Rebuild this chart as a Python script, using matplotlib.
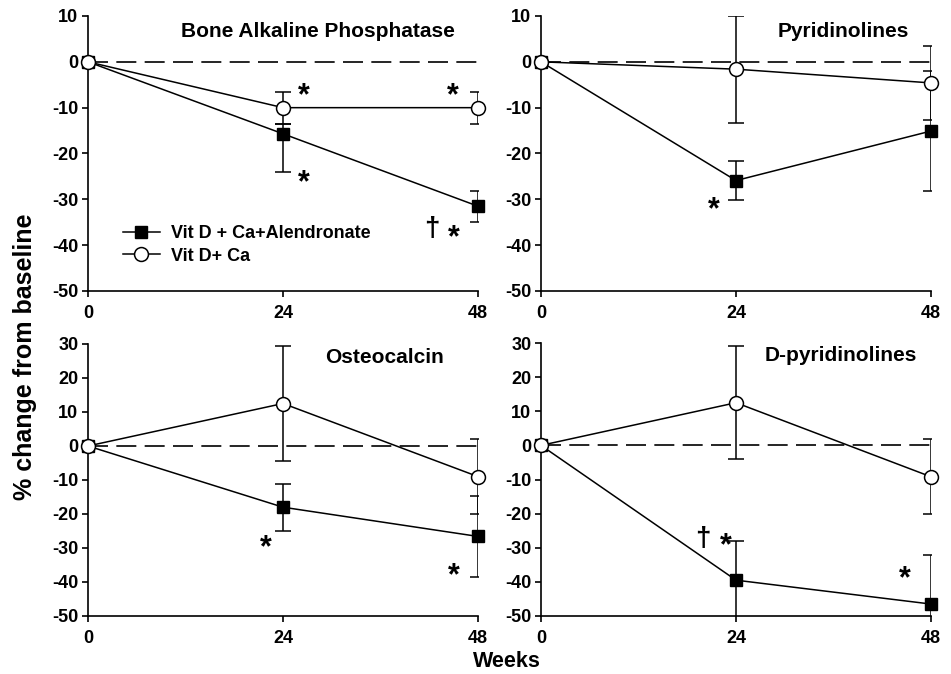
import numpy as np
import matplotlib.pyplot as plt
from matplotlib.lines import Line2D

plt.rcParams['font.family'] = ['Liberation Sans', 'DejaVu Sans']
plt.rcParams['font.weight'] = 'bold'
plt.rcParams['axes.unicode_minus'] = False

weeks = [0, 24, 48]

# Bone Alkaline Phosphatase
bap_aln = [0, -15.7, -31.5]
bap_aln_lo = [0, 8.3, 3.4]
bap_aln_hi = [0, 2.1, 3.4]
bap_ctl = [0, -10, -10]
bap_ctl_err = [0, 3.5, 3.5]

# Pyridinolines
pyr_aln = [0, -25.9, -15.1]
pyr_aln_err = [0, 4.2, 13.0]
pyr_ctl = [0, -1.6, -4.6]
pyr_ctl_err = [0, 11.7, 8.1]

# Osteocalcin
ost_aln = [0, -18.0, -26.6]
ost_aln_err = [0, 6.9, 11.8]
ost_ctl = [0, 12.5, -9.0]
ost_ctl_err = [0, 16.8, 11.0]

# D-pyridinolines
dpy_aln = [0, -39.5, -46.5]
dpy_aln_err = [0, 11.5, 14.5]
dpy_ctl = [0, 12.5, -9.2]
dpy_ctl_err = [0, 16.5, 11.0]

labels = ['Vit D + Ca+Alendronate', 'Vit D+ Ca']

fig = plt.figure(figsize=(9.51, 6.74), dpi=100)
W, H = 951, 674


def make_ax(left, top, right, bottom):
    return fig.add_axes([left / W, 1 - bottom / H, (right - left) / W, (bottom - top) / H])


ax_tl = make_ax(88, 16, 478, 291)
ax_tr = make_ax(541, 16, 931, 291)
ax_bl = make_ax(88, 344, 478, 616)
ax_br = make_ax(541, 343, 931, 616)


def draw(ax, aln, aln_err, ctl, ctl_err, ylim, title, tx, ty):
    ax.axhline(0, color='black', lw=1.2, ls=(0, (12, 5)), zorder=1)
    ax.errorbar(weeks, aln, yerr=aln_err, fmt='none', ecolor='black',
                elinewidth=1.1, capsize=6, capthick=1.1, zorder=2)
    ax.errorbar(weeks, ctl, yerr=ctl_err, fmt='none', ecolor='black',
                elinewidth=1.1, capsize=6, capthick=1.1, zorder=2)
    ax.plot(weeks, aln, color='black', lw=1.1, marker='s', ms=9,
            mfc='black', mec='black', clip_on=False, zorder=3)
    ax.plot(weeks, ctl, color='black', lw=1.1, marker='o', ms=10,
            mfc='white', mec='black', mew=1.1, clip_on=False, zorder=4)
    ax.set_xlim(0, 48)
    ax.set_ylim(*ylim)
    ax.set_xticks(weeks)
    ax.set_yticks(np.arange(ylim[0], ylim[1] + 1, 10))
    for s in ['top', 'right']:
        ax.spines[s].set_visible(False)
    for s in ['left', 'bottom']:
        ax.spines[s].set_linewidth(1.2)
    ax.tick_params(direction='out', length=4, width=1.2, labelsize=13, pad=3)
    ax.tick_params(axis='x', pad=6)
    for lab in ax.get_xticklabels() + ax.get_yticklabels():
        lab.set_fontweight('bold')
    ax.text(tx, ty, title, transform=ax.transAxes, ha='center', va='center',
            fontsize=15, fontweight='bold')


draw(ax_tl, bap_aln, [bap_aln_lo, bap_aln_hi], bap_ctl, bap_ctl_err,
     (-50, 10), 'Bone Alkaline Phosphatase', 0.59, 0.945)
draw(ax_tr, pyr_aln, pyr_aln_err, pyr_ctl, pyr_ctl_err,
     (-50, 10), 'Pyridinolines', 0.775, 0.945)
draw(ax_bl, ost_aln, ost_aln_err, ost_ctl, ost_ctl_err,
     (-50, 30), 'Osteocalcin', 0.76, 0.95)
draw(ax_br, dpy_aln, dpy_aln_err, dpy_ctl, dpy_ctl_err,
     (-50, 30), 'D-pyridinolines', 0.77, 0.955)

star = dict(fontsize=22, fontweight='bold', ha='center', va='center')
dag = dict(fontsize=20, fontweight='bold', ha='center', va='center')
ax_tl.text(26.5, -7.6, '*', **star)
ax_tl.text(26.5, -26.4, '*', **star)
ax_tl.text(44.9, -7.6, '*', **star)
ax_tl.text(42.3, -36.4, '†', **dag)
ax_tl.text(45.0, -38.4, '*', **star)
ax_tr.text(21.3, -32.4, '*', **star)
ax_bl.text(21.9, -30.0, '*', **star)
ax_bl.text(45.0, -38.4, '*', **star)
ax_br.text(19.9, -27.4, '†', **dag)
ax_br.text(22.8, -29.6, '*', **star)
ax_br.text(44.8, -39.2, '*', **star)

handles = [Line2D([], [], color='black', lw=1.1, marker='s', ms=9, mfc='black'),
           Line2D([], [], color='black', lw=1.1, marker='o', ms=10, mfc='white', mew=1.1)]
ax_tl.legend(handles, labels, loc='upper left', bbox_to_anchor=(0.07, 0.265),
             frameon=False, handlelength=2.1, handletextpad=0.6, labelspacing=0.3,
             prop={'weight': 'bold', 'size': 13}, borderaxespad=0)

fig.text(0.026, 0.47, '% change from baseline', rotation=90, ha='center', va='center',
         fontsize=18, fontweight='bold')
fig.text(0.533, 0.018, 'Weeks', ha='center', va='center', fontsize=15.5, fontweight='bold')

fig.savefig('out.png', dpi=100)
